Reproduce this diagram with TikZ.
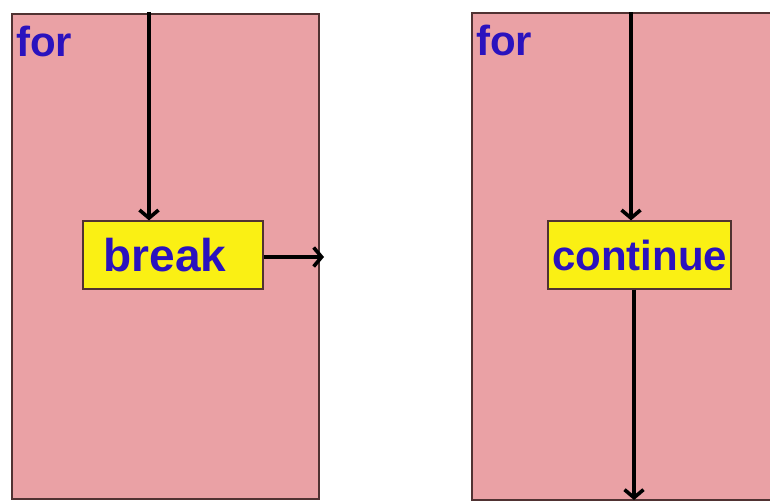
\documentclass[tikz,border=0pt]{standalone}
\usepackage{fontspec}
\setmainfont{Liberation Sans}
\usetikzlibrary{arrows.meta}
\definecolor{pinkbg}{RGB}{234,161,165}
\definecolor{boxyel}{RGB}{250,240,20}
\definecolor{txtblue}{RGB}{42,18,190}
\definecolor{edge}{RGB}{80,50,50}
\begin{document}
\begin{tikzpicture}[x=1pt,y=-1pt,
  loopbox/.style={fill=pinkbg,draw=edge,line width=1.2pt},
  kwbox/.style={fill=boxyel,draw=edge,line width=1.2pt,minimum height=68pt,inner sep=0pt,
    font=\fontsize{42}{48}\selectfont\bfseries,text=txtblue},
  label/.style={font=\fontsize{42}{48}\selectfont\bfseries,text=txtblue,anchor=north west,inner sep=0pt},
  flow/.style={line width=3.6pt,-{Straight Barb[length=8pt,width=19pt,line width=3.6pt]}}]
\useasboundingbox (0,0) rectangle (770,501);
\fill[white] (0,0) rectangle (770,501);
% left loop
\draw[loopbox] (12,14) rectangle (319,499);
\node[label] (forL) at (16,26) {for};
\node[kwbox,minimum width=180pt] (brk) at (173,255) {\hspace*{-16pt}\fontsize{46}{50}\selectfont break};
\coordinate (topL) at (149,12);
\coordinate (outL) at (324,257);
\draw[flow] (topL) -- (topL |- brk.north);
\draw[flow] (brk.east |- outL) -- (outL);
% right loop
\draw[loopbox] (472,13) rectangle (775,500);
\node[label] (forR) at (476,25) {for};
\node[kwbox,minimum width=183pt] (cont) at (639.5,255) {continue};
\coordinate (topR) at (631,12);
\coordinate (botR) at (634,500);
\draw[flow] (topR) -- (topR |- cont.north);
\draw[flow] (botR |- cont.south) -- (botR);
\end{tikzpicture}
\end{document}
